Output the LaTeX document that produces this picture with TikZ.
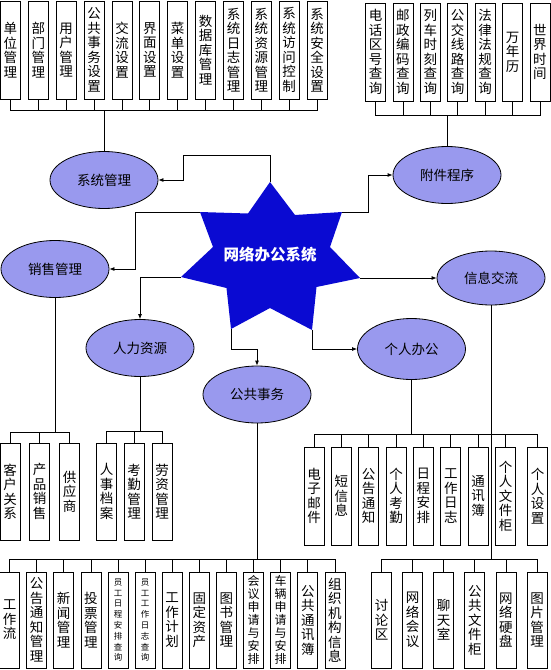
\documentclass[tikz,border=0pt]{standalone}
\usepackage{fontspec}
\newfontfamily\cjk{Noto Sans CJK SC}
\usetikzlibrary{shapes.geometric,arrows.meta}
\definecolor{ellfill}{RGB}{153,153,238}
\definecolor{starblue}{RGB}{10,10,210}
\begin{document}
\begin{tikzpicture}[x=1pt,y=-1pt,
  line width=0.8pt,
  vb/.style={draw,rectangle,minimum width=20pt,minimum height=98pt,inner sep=0pt,align=center,
    font=\cjk\fontsize{13.5}{14.5}\selectfont},
  vbl/.style={vb,minimum height=96pt},
  vbm/.style={vbl,font=\cjk\fontsize{12}{12.9}\selectfont},
  vbs/.style={vbl,font=\cjk\fontsize{8.5}{10.8}\selectfont},
  ell/.style={draw,ellipse,fill=ellfill,minimum width=108pt,minimum height=57pt,inner sep=0pt,
    font=\cjk\fontsize{13.5}{16}\selectfont},
  arr/.style={-{Latex[length=5pt,width=4pt]}}
]
\useasboundingbox (0,0) rectangle (551,670);

% ---------- top-left boxes ----------
\node[vb] (t1)  at (10.5,50)  {单\\位\\管\\理};
\node[vb] (t2)  at (38.4,50)  {部\\门\\管\\理};
\node[vb] (t3)  at (66.2,50)  {用\\户\\管\\理};
\node[vb] (t4)  at (94.1,50)  {公\\共\\事\\务\\设\\置};
\node[vb] (t5)  at (122,50)   {交\\流\\设\\置};
\node[vb] (t6)  at (149.8,50) {界\\面\\设\\置};
\node[vb] (t7)  at (177.7,50) {菜\\单\\设\\置};
\node[vb] (t8)  at (205.6,50) {数\\据\\库\\管\\理};
\node[vb] (t9)  at (233.5,50) {系\\统\\日\\志\\管\\理};
\node[vb] (t10) at (261.3,50) {系\\统\\资\\源\\管\\理};
\node[vb] (t11) at (289.2,50) {系\\统\\访\\问\\控\\制};
\node[vb] (t12) at (317,50)   {系\\统\\安\\全\\设\\置};

% ---------- top-right boxes ----------
\node[vb] (r1) at (375.5,52) {电\\话\\区\\号\\查\\询};
\node[vb] (r2) at (402.9,52) {邮\\政\\编\\码\\查\\询};
\node[vb] (r3) at (430.3,52) {列\\车\\时\\刻\\查\\询};
\node[vb] (r4) at (457.7,52) {公\\交\\线\\路\\查\\询};
\node[vb] (r5) at (485.1,52) {法\\律\\法\\规\\查\\询};
\node[vb] (r6) at (512.5,52) {万\\年\\历};
\node[vb] (r7) at (539.9,52) {世\\界\\时\\间};

% ---------- ellipses ----------
\node[ell] (sys) at (104,180) {系统管理};
\node[ell] (fj)  at (447,175) {附件程序};
\node[ell] (xs)  at (55,269)  {销售管理};
\node[ell,minimum height=54pt] (xx) at (491,278) {信息交流};
\node[ell] (rl)  at (140,348) {人力资源};
\node[ell,minimum height=61pt] (gr) at (411.5,349) {个人办公};
\node[ell] (gg)  at (257,394.5) {公共事务};

% ---------- star ----------
\coordinate (sTop) at (270,182);
\coordinate (sUR)  at (342,212);
\coordinate (sR)   at (360,278);
\coordinate (sBR)  at (312,330);
\coordinate (sBL)  at (231,329);
\coordinate (sL)   at (181,277);
\coordinate (sUL)  at (200,212);
\fill[starblue] (sTop) -- (295,215) -- (sUR) -- (330,247) -- (sR) -- (316.5,287)
  -- (sBR) -- (270,308) -- (sBL) -- (226.5,288) -- (sL) -- (213,247)
  -- (sUL) -- (248,213.5) -- cycle;
\node[font=\cjk\bfseries\fontsize{15.5}{17}\selectfont,text=white] (hub) at (270,255) {网络办公系统};

% ---------- arrows from the star ----------
\coordinate (k1) at (183,155);
\draw[arr] (sTop) |- (k1) |- (sys.east);
\coordinate (k2) at (368,175);
\draw[arr] (sUR) -| (k2) -- (fj.west);
\coordinate (k3) at (135,212);
\draw[arr] (sUL) -- (k3) |- (xs.east);
\draw[arr] (sL) -| (rl.north);
\draw[arr] (sR) -- (xx.west);
\draw[arr] (sBR) |- (gr.west);
\coordinate (k7) at (257,349);
\draw[arr] (sBL) |- (k7) -- (gg.north);

% ---------- personal boxes ----------
\node[vb] (p1) at (314,496)   {电\\子\\邮\\件};
\node[vb] (p2) at (341.4,496) {短\\信\\息};
\node[vb] (p3) at (368.7,496) {公\\告\\通\\知};
\node[vb] (p4) at (396.1,496) {个\\人\\考\\勤};
\node[vb] (p5) at (423.4,496) {日\\程\\安\\排};
\node[vb] (p6) at (450.8,496) {工\\作\\日\\志};
\node[vb] (p7) at (478.2,496) {通\\讯\\簿};
\node[vb] (p8) at (505.5,496) {个\\人\\文\\件\\柜};
\node[vb] (p9) at (537.5,496) {个\\人\\设\\置};

% ---------- sales / HR boxes ----------
\node[vb,minimum height=97pt] (s1) at (10,491.5)   {客\\户\\关\\系};
\node[vb,minimum height=97pt] (s2) at (39.5,491.5) {产\\品\\销\\售};
\node[vb,minimum height=97pt] (s3) at (69.5,491.5) {供\\应\\商};
\node[vb,minimum height=97pt] (h1) at (106.5,491.5) {人\\事\\档\\案};
\node[vb,minimum height=97pt] (h2) at (134,491.5)   {考\\勤\\管\\理};
\node[vb,minimum height=97pt] (h3) at (162,491.5)   {劳\\资\\管\\理};

% ---------- bottom-left boxes ----------
\node[vbl] (b1)  at (9.5,620)   {工\\作\\流};
\node[vbl] (b2)  at (36.6,620)  {公\\告\\通\\知\\管\\理};
\node[vbl] (b3)  at (63.7,620)  {新\\闻\\管\\理};
\node[vbl] (b4)  at (90.9,620)  {投\\票\\管\\理};
\node[vbs] (b5)  at (118,620)   {员\\工\\日\\程\\安\\排\\查\\询};
\node[vbs] (b6)  at (145.1,620) {员\\工\\工\\作\\日\\志\\查\\询};
\node[vbl] (b7)  at (172.2,620) {工\\作\\计\\划};
\node[vbl] (b8)  at (199.3,620) {固\\定\\资\\产};
\node[vbl] (b9)  at (226.4,620) {图\\书\\管\\理};
\node[vbm] (b10) at (253.5,620) {会\\议\\申\\请\\与\\安\\排};
\node[vbm] (b11) at (280.6,620) {车\\辆\\申\\请\\与\\安\\排};
\node[vbl] (b12) at (307.8,620) {公\\共\\通\\讯\\簿};
\node[vbl] (b13) at (334.9,620) {组\\织\\机\\构\\信\\息};

% ---------- bottom-right boxes ----------
\node[vbl] (c1) at (381.5,620) {讨\\论\\区};
\node[vbl] (c2) at (412.6,620) {网\\络\\会\\议};
\node[vbl] (c3) at (443.7,620) {聊\\天\\室};
\node[vbl] (c4) at (474.8,620) {公\\共\\文\\件\\柜};
\node[vbl] (c5) at (505.9,620) {网\\络\\硬\\盘};
\node[vbl] (c6) at (537,620)   {图\\片\\管\\理};

% ---------- buses ----------
\coordinate (tb) at (sys.north |- 0,110);
\draw (sys.north) -- (tb);
\foreach \n in {t1,t2,t3,t4,t5,t6,t7,t8,t9,t10,t11,t12} \draw (\n.south) |- (tb);

\coordinate (rb) at (fj.north |- 0,115);
\draw (fj.north) -- (rb);
\foreach \n in {r1,r2,r3,r4,r5,r6,r7} \draw (\n.south) |- (rb);

\coordinate (sb) at (xs.south |- 0,432);
\draw (xs.south) -- (sb);
\foreach \n in {s1,s2,s3} \draw (\n.north) |- (sb);

\coordinate (hb) at (rl.south |- 0,431);
\draw (rl.south) -- (hb);
\foreach \n in {h1,h2,h3} \draw (\n.north) |- (hb);

\coordinate (pb) at (gr.south |- 0,434);
\draw (gr.south) -- (pb);
\foreach \n in {p1,p2,p3,p4,p5,p6,p7,p8,p9} \draw (\n.north) |- (pb);

\coordinate (bb) at (gg.south |- 0,559);
\draw (gg.south) -- (bb);
\foreach \n in {b1,b2,b3,b4,b5,b6,b7,b8,b9,b10,b11,b12,b13} \draw (\n.north) |- (bb);

\coordinate (cb) at (xx.south |- 0,559);
\draw (xx.south) -- (cb);
\foreach \n in {c1,c2,c3,c4,c5,c6} \draw (\n.north) |- (cb);
\end{tikzpicture}
\end{document}
